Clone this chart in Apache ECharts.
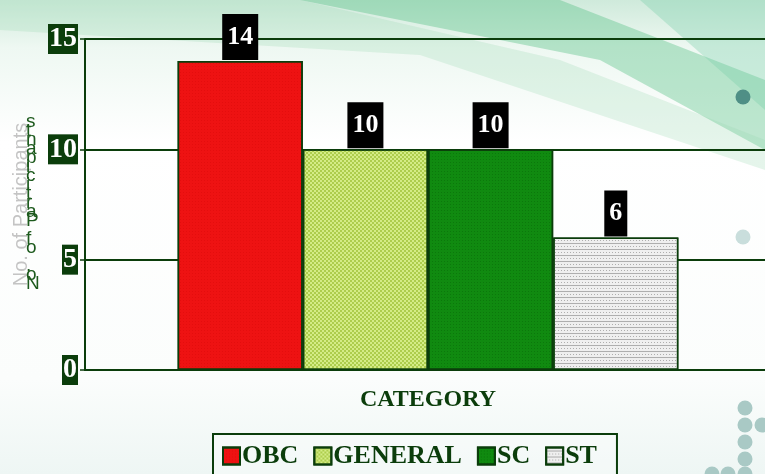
<!DOCTYPE html>
<html>
<head>
<meta charset="utf-8">
<script src="https://cdn.jsdelivr.net/npm/echarts@6/dist/echarts.min.js"></script>
<style>
  html, body { margin: 0; padding: 0; }
  #chart { width: 765px; height: 474px; }
</style>
</head>
<body>
<div id="chart"></div>
<script>
// data
const categories = [''];
const seriesNames = ['OBC', 'GENERAL', 'SC', 'ST'];
const obcValues = [14];
const generalValues = [10];
const scValues = [10];
const stValues = [6];
const yTicks = { min: 0, max: 15, interval: 5 };
const yTitle = 'No. of Participants';
const xTitle = 'CATEGORY';

const darkGreen = '#0b3d0b';
const serif = '"Liberation Serif", "DejaVu Serif", serif';

const chart = echarts.init(document.getElementById('chart'));

function barSeries(name, data, color, decal) {
    return {
        name: name,
        type: 'bar',
        data: data,
        barGap: 0,
        barCategoryGap: '27%',
        z: 3,
        itemStyle: {
            color: color,
            borderColor: darkGreen,
            borderWidth: 1.5,
            decal: decal
        },
        label: {
            show: true,
            position: 'top',
            distance: 1,
            backgroundColor: '#000',
            color: '#fff',
            fontFamily: serif,
            fontWeight: 'bold',
            fontSize: 26,
            lineHeight: 26,
            padding: [10, 5, 10, 5]
        }
    };
}

// decorative background swoosh and dots
const dots = [
    [743, 97, '#4f8f86'], [743, 237, '#c9dedc'],
    [745, 408, '#a9c9c5'], [745, 425, '#a9c9c5'], [762, 425, '#a9c9c5'],
    [745, 442, '#a9c9c5'], [745, 459, '#a9c9c5'],
    [712, 474, '#a9c9c5'], [728, 474, '#a9c9c5'], [745, 474, '#a9c9c5']
];

const option = {
    backgroundColor: new echarts.graphic.LinearGradient(0, 0, 0, 1, [
        { offset: 0, color: '#cfeadb' },
        { offset: 0.1, color: '#eef8f2' },
        { offset: 0.3, color: '#ffffff' },
        { offset: 0.8, color: '#fbfdfc' },
        { offset: 1, color: '#eef6f4' }
    ]),
    graphic: [
        {
            type: 'polygon', silent: true, z: -10,
            shape: { points: [[300, 0], [560, 0], [765, 80], [765, 150], [600, 60]] },
            style: { fill: 'rgba(70,185,120,0.35)' }
        },
        {
            type: 'polygon', silent: true, z: -10,
            shape: { points: [[640, 0], [765, 0], [765, 110]] },
            style: { fill: 'rgba(120,205,170,0.35)' }
        },
        {
            type: 'polygon', silent: true, z: -10,
            shape: { points: [[0, 0], [300, 0], [560, 60], [765, 140], [765, 170], [420, 55], [0, 30]] },
            style: { fill: 'rgba(150,215,175,0.25)' }
        }
    ].concat(dots.map(function (d) {
        return {
            type: 'circle', silent: true, z: -5,
            shape: { cx: d[0], cy: d[1], r: 7.5 },
            style: { fill: d[2] }
        };
    })).concat([
        {
            type: 'text', silent: true, z: 5,
            left: 26, top: 112,
            style: {
                text: yTitle.split('').reverse().join('\n'),
                fill: '#1d5a1d',
                fontSize: 19,
                fontFamily: '"Liberation Sans", sans-serif',
                lineHeight: 9,
                align: 'center'
            }
        }
    ]),
    legend: {
        data: seriesNames,
        icon: 'rect',
        bottom: -25,
        left: 213,
        itemWidth: 17,
        itemHeight: 17,
        itemGap: 15,
        padding: [9, 20, 30, 9],
        borderColor: darkGreen,
        borderWidth: 2,
        backgroundColor: 'rgba(255,255,255,0.3)',
        textStyle: {
            fontFamily: serif,
            fontWeight: 'bold',
            fontSize: 26,
            color: darkGreen,
            padding: [0, 0, 0, -3]
        }
    },
    grid: {
        left: 85,
        width: 686,
        top: 39,
        bottom: 104,
        outerBoundsMode: 'none'
    },
    xAxis: {
        type: 'category',
        data: categories,
        name: xTitle,
        nameLocation: 'middle',
        nameGap: 18,
        nameTextStyle: {
            fontFamily: serif,
            fontWeight: 'bold',
            fontSize: 24,
            color: darkGreen
        },
        axisLine: { lineStyle: { color: darkGreen, width: 2 } },
        axisTick: { show: false },
        axisLabel: { show: false }
    },
    yAxis: {
        type: 'value',
        min: yTicks.min,
        max: yTicks.max,
        interval: yTicks.interval,
        name: yTitle,
        nameLocation: 'middle',
        nameGap: 54,
        nameTextStyle: {
            fontFamily: '"Liberation Sans", Arial, sans-serif',
            fontSize: 20,
            color: '#c4c4c4'
        },
        axisLine: { show: true, lineStyle: { color: darkGreen, width: 2 } },
        axisTick: { show: true, length: 5, lineStyle: { color: darkGreen, width: 1.5 } },
        splitLine: { lineStyle: { color: darkGreen, width: 2 } },
        axisLabel: {
            margin: 7,
            backgroundColor: darkGreen,
            color: '#fff',
            fontFamily: serif,
            fontWeight: 'bold',
            fontSize: 28,
            lineHeight: 29,
            padding: [1, 1, 0, 1]
        }
    },
    series: [
        barSeries('OBC', obcValues, '#ee1212', {
            symbol: 'rect', symbolSize: 1, color: 'rgba(200,0,0,0.25)',
            dashArrayX: [1, 2], dashArrayY: [1, 2], rotation: 0
        }),
        barSeries('GENERAL', generalValues, '#d4ec86', {
            symbol: 'rect', symbolSize: 1, color: 'rgba(140,180,30,0.55)',
            dashArrayX: [[2, 2], [0, 2, 2, 0]], dashArrayY: [2, 0], rotation: 0
        }),
        barSeries('SC', scValues, '#108a10', {
            symbol: 'rect', symbolSize: 1, color: 'rgba(0,80,0,0.3)',
            dashArrayX: [1, 2], dashArrayY: [1, 2], rotation: 0
        }),
        barSeries('ST', stValues, '#efefef', {
            symbol: 'rect', symbolSize: 1, color: 'rgba(120,120,120,0.55)',
            dashArrayX: [[3, 0], [1, 2]], dashArrayY: [1, 2], rotation: 0
        })
    ]
};

chart.setOption(option);
</script>
</body>
</html>
